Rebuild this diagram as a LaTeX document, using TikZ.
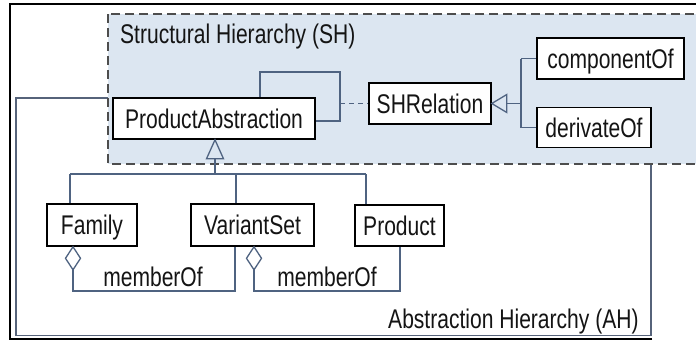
\documentclass[tikz,border=0pt]{standalone}
\usepackage{fontspec}
\setmainfont{Liberation Sans}[FakeStretch=0.78]
\usetikzlibrary{calc}
\definecolor{shfill}{HTML}{DCE6F1}
\definecolor{conn}{HTML}{4F6381}
\definecolor{txt}{HTML}{141414}
\definecolor{dashc}{HTML}{4D4D4D}
\definecolor{ahc}{HTML}{56637A}
\tikzset{
  cls/.style={draw=black, fill=white, line width=1.6pt, inner sep=0pt,
    text height=19.5pt, text depth=0pt, text=txt,
    font=\fontsize{27}{30}\selectfont},
  lbl/.style={inner sep=0pt, text=txt, font=\fontsize{27}{30}\selectfont},
  connl/.style={draw=conn, line width=1.5pt},
  headl/.style={draw=conn, line width=1.3pt, line join=miter}
}
\begin{document}
\begin{tikzpicture}[x=1pt, y=-1pt]
\useasboundingbox (0,0) rectangle (696,340);
\clip (0,0) rectangle (696,340);
\fill[white] (0,0) rectangle (696,340);
% outer black frame (top, left, bottom)
\draw[black, line width=1.6pt] (652,339) -- (10,339) -- (10,4) -- (700,4);
% abstraction hierarchy frame
\draw[ahc, line width=1.5pt] (16,98) rectangle (651,335.5);
% structural hierarchy region
\draw[dashc, line width=1.5pt, fill=shfill, dash pattern=on 9pt off 5pt]
  (108,14) rectangle (720,164);
\node[lbl, anchor=base west] (shtitle) at (120,43) {Structural Hierarchy (SH)};
\node[lbl, anchor=base west] (ahtitle) at (388,328) {Abstraction Hierarchy (AH)};

% classes
\node[cls, minimum width=202pt, minimum height=41pt] (PA) at (214,118.5) {ProductAbstraction};
\node[cls, minimum width=122pt, minimum height=41pt] (SHR) at (430,103.5) {SHRelation};
\node[cls, minimum width=147pt, minimum height=41pt] (comp) at (610.5,58.5) {componentOf};
\node[cls, minimum width=114pt, minimum height=40pt] (der) at (594,127.5) {derivateOf};
\node[cls, minimum width=90pt, minimum height=42pt] (fam) at (92,225) {Family};
\node[cls, minimum width=123pt, minimum height=42pt] (vs) at (252.5,225) {VariantSet};
\node[cls, minimum width=89pt, minimum height=41pt] (prod) at (399.5,225.5) {Product};

% self association loop on ProductAbstraction
\coordinate (l1) at (260,72);
\coordinate (l2) at (340,72);
\coordinate (l3) at (340,121);
\draw[connl] (PA.north -| l1) -- (l1) -- (l2) -- (l3) -- (l3 -| PA.east);
\coordinate (ac) at (340,103.5);
\draw[connl, dash pattern=on 5pt off 4pt] (ac) -- (SHR.west);

% SHRelation generalization
\coordinate (jr) at (521,103.5);
\coordinate (trb) at ($(SHR.east)+(15,0)$);
\draw[connl] (jr) -- (trb);
\draw[headl] (SHR.east) -- ++(15,-9) -- ++(0,18) -- cycle;
\draw[connl] (jr |- comp.west) -- (jr |- der.west);
\draw[connl] (jr |- comp.west) -- (comp.west);
\draw[connl] (jr |- der.west) -- (der.west);

% ProductAbstraction generalization
\coordinate (jp) at (215,174);
\coordinate (tl) at (70,174);
\coordinate (tm) at (236,174);
\coordinate (tr) at (366,174);
\coordinate (tpb) at ($(PA.south -| jp)+(0,19)$);
\draw[connl] (jp) -- (tpb);
\draw[headl] (PA.south -| jp) -- ++(-8.5,19) -- ++(17,0) -- cycle;
\draw[connl] (tl) -- (tr);
\draw[connl] (tl) -- (fam.north -| tl);
\draw[connl] (tm) -- (vs.north -| tm);
\draw[connl] (tr) -- (prod.north -| tr);

% memberOf aggregations
\coordinate (m1a) at (73,291);
\coordinate (m1b) at (235,291);
\coordinate (d1) at ($(fam.south -| m1a)+(0,23)$);
\draw[connl] (d1) -- (m1a) -- (m1b) -- (vs.south -| m1b);
\draw[headl, fill=white] (fam.south -| m1a) -- ++(7.5,11.5) -- ++(-7.5,11.5) -- ++(-7.5,-11.5) -- cycle;
\node[lbl] (mo1) at (153,277) {memberOf};
\coordinate (m2a) at (254,291);
\coordinate (m2b) at (400,291);
\coordinate (d2) at ($(vs.south -| m2a)+(0,23)$);
\draw[connl] (d2) -- (m2a) -- (m2b) -- (prod.south -| m2b);
\draw[headl, fill=white] (vs.south -| m2a) -- ++(7.5,11.5) -- ++(-7.5,11.5) -- ++(-7.5,-11.5) -- cycle;
\node[lbl] (mo2) at (327,277) {memberOf};
\end{tikzpicture}
\end{document}
